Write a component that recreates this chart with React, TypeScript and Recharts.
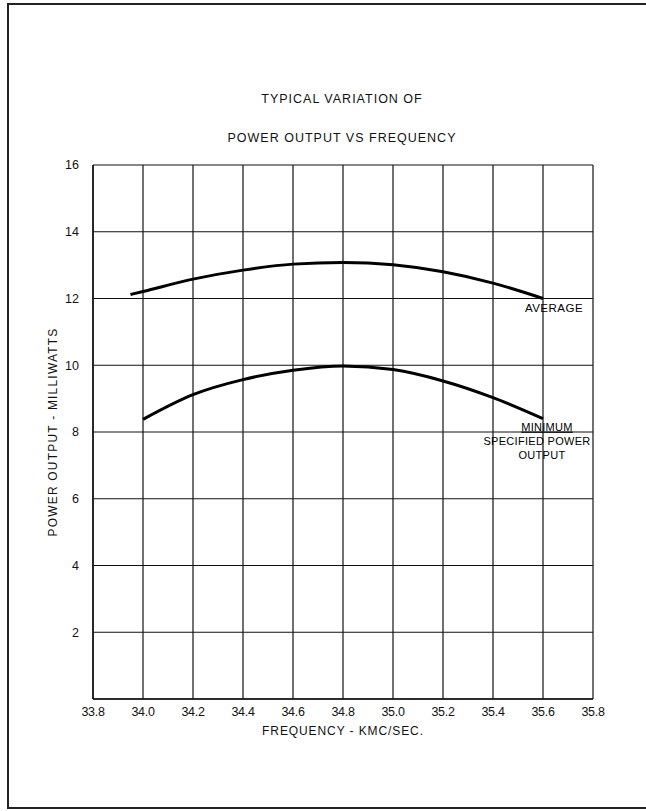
import React from "react";
import {
  LineChart,
  Line,
  XAxis,
  YAxis,
  CartesianGrid,
  ReferenceDot,
  Label
} from "recharts";

// frequency (KMC/sec) vs power output (milliwatts)
const AVERAGE = [
  { f: 33.95, p: 12.12 },
  { f: 34.0, p: 12.21 },
  { f: 34.2, p: 12.58 },
  { f: 34.4, p: 12.85 },
  { f: 34.6, p: 13.03 },
  { f: 34.8, p: 13.08 },
  { f: 35.0, p: 13.01 },
  { f: 35.2, p: 12.8 },
  { f: 35.4, p: 12.46 },
  { f: 35.6, p: 12.0 }
];

const MINIMUM = [
  { f: 34.0, p: 8.38 },
  { f: 34.2, p: 9.12 },
  { f: 34.4, p: 9.57 },
  { f: 34.6, p: 9.85 },
  { f: 34.8, p: 9.98 },
  { f: 35.0, p: 9.87 },
  { f: 35.2, p: 9.53 },
  { f: 35.4, p: 9.03 },
  { f: 35.6, p: 8.4 }
];

const FREQ_TICKS = [33.8, 34.0, 34.2, 34.4, 34.6, 34.8, 35.0, 35.2, 35.4, 35.6, 35.8];
const POWER_TICKS = [0, 2, 4, 6, 8, 10, 12, 14, 16];

const TITLE = ["TYPICAL VARIATION OF", "POWER OUTPUT VS FREQUENCY"];
const FONT = "'Liberation Sans', Arial, sans-serif";

const AverageLabel = (props: any) => {
  const { viewBox } = props;
  return (
    <text x={viewBox.x + 11} y={viewBox.y + 13} textAnchor="middle"
      fontFamily={FONT} fontSize={11.5} fill="#000" letterSpacing={0.5}>
      AVERAGE
    </text>
  );
};

const MinimumLabel = (props: any) => {
  const { viewBox } = props;
  const x = viewBox.x;
  const y = viewBox.y;
  return (
    <g fontFamily={FONT} fontSize={11} fill="#000" textAnchor="middle" letterSpacing={0.3}>
      <text x={x + 4} y={y + 12} textDecoration="underline">MINIMUM</text>
      <text x={x - 6} y={y + 26}>SPECIFIED POWER</text>
      <text x={x - 1} y={y + 40}>OUTPUT</text>
    </g>
  );
};

export default function App() {
  return (
    <div style={{ position: "absolute", left: 0, top: 0, width: 646, height: 811, background: "#fff", overflow: "hidden" }}>
      <div style={{
        position: "absolute", left: 7, top: 3, width: 660, height: 802,
        borderLeft: "2px solid #222", borderTop: "2px solid #222", borderBottom: "2px solid #222"
      }} />
      {TITLE.map((t, i) => (
        <div key={t} style={{
          position: "absolute", left: 0, width: 684, top: 92 + i * 39, textAlign: "center",
          fontFamily: FONT, fontSize: 12.5, letterSpacing: 1, color: "#111"
        }}>{t}</div>
      ))}
      <div style={{ position: "absolute", left: 0, top: 0 }}>
        <LineChart
          width={646}
          height={811}
          margin={{ top: 165, right: 53, bottom: 82, left: 63 }}
        >
          <CartesianGrid stroke="#111" strokeWidth={1.2} />
          <XAxis
            type="number"
            dataKey="f"
            domain={[33.8, 35.8]}
            ticks={FREQ_TICKS}
            tickFormatter={(v: number) => v.toFixed(1)}
            allowDataOverflow
            height={30}
            tickLine={false}
            axisLine={{ stroke: "#111", strokeWidth: 1.5 }}
            tick={{ fill: "#111", fontSize: 12.5, fontFamily: FONT, letterSpacing: -0.3 }}
          >
            <Label value="FREQUENCY - KMC/SEC." position="insideBottom" offset={-6}
              style={{ fontFamily: FONT, fontSize: 12, fill: "#111", letterSpacing: 0.9 }} />
          </XAxis>
          <YAxis
            type="number"
            dataKey="p"
            domain={[0, 16]}
            ticks={POWER_TICKS}
            tickFormatter={(v: number) => (v === 0 ? "" : String(v))}
            width={30}
            tickLine={false}
            tickMargin={8}
            axisLine={{ stroke: "#111", strokeWidth: 1.5 }}
            tick={{ fill: "#111", fontSize: 12.5, fontFamily: FONT }}
          >
            <Label value="POWER OUTPUT - MILLIWATTS" angle={-90} position="insideLeft" offset={-10}
              style={{ fontFamily: FONT, fontSize: 12, fill: "#111", letterSpacing: 1.2, textAnchor: "middle" }} />
          </YAxis>
          <Line data={AVERAGE} dataKey="p" type="monotone" stroke="#000" strokeWidth={3}
            dot={false} isAnimationActive={false} />
          <Line data={MINIMUM} dataKey="p" type="monotone" stroke="#000" strokeWidth={3}
            dot={false} isAnimationActive={false} />
          <ReferenceDot x={35.6} y={12} r={0} fill="none" stroke="none" label={<AverageLabel />} />
          <ReferenceDot x={35.6} y={8.4} r={0} fill="none" stroke="none" label={<MinimumLabel />} />
        </LineChart>
      </div>
    </div>
  );
}
